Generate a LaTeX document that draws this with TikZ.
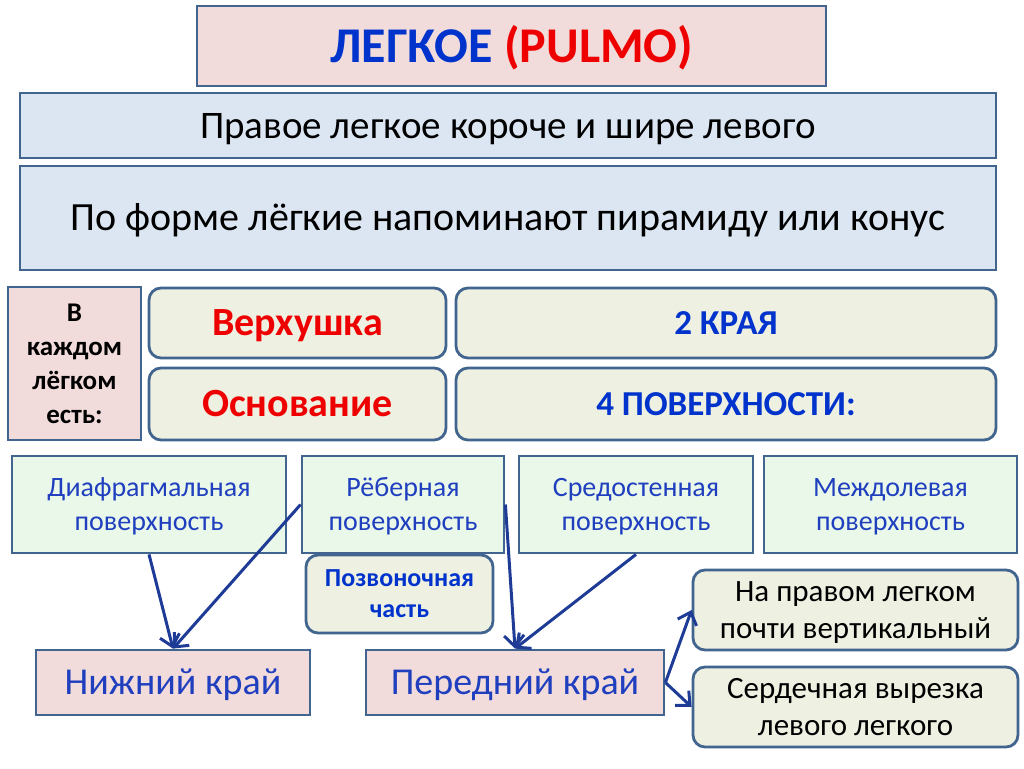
\documentclass[tikz,border=0pt]{standalone}
\usepackage{fontspec}
\setmainfont{Carlito}
\usepackage{xcolor}
\usetikzlibrary{arrows.meta, positioning}

\definecolor{frame}{HTML}{41658F}
\definecolor{pinkfill}{HTML}{F2DCDB}
\definecolor{bluefill}{HTML}{DCE6F2}
\definecolor{greenfill}{HTML}{EAF8EA}
\definecolor{olivefill}{HTML}{EEF0E2}
\definecolor{darkblue}{HTML}{1E3C96}
\definecolor{textblue}{HTML}{1F3FBF}
\definecolor{titleblue}{HTML}{0033CC}
\definecolor{textred}{HTML}{EE0000}

% struts so that the capitals sit in the middle of a box
\newcommand{\topfix}{\rule{0pt}{1em}}
\newcommand{\botfix}{\rule[-0.356em]{0pt}{0.356em}}

\begin{document}
\begin{tikzpicture}[x=1pt, y=-1pt,
    plain/.style={rectangle, draw=frame, line width=2.8pt, inner sep=0pt, align=center},
    capmid/.style={execute at begin node=\topfix, execute at end node=\botfix},
    pinkbox/.style={plain, fill=pinkfill},
    infobox/.style={plain, capmid, fill=bluefill, minimum width=976pt},
    surfbox/.style={plain, fill=greenfill, minimum height=97pt, text=textblue, font=\fontsize{28}{34}\selectfont},
    roundbox/.style={plain, fill=olivefill, rounded corners=12pt},
    edgebox/.style={pinkbox, capmid, minimum height=65pt, text=textblue, font=\fontsize{38}{42}\selectfont},
    arr/.style={-{Straight Barb[length=11pt, width=20pt]}, line width=3pt, draw=darkblue}
]
\useasboundingbox (0,0) rectangle (1024,768);

% top
\node[pinkbox, capmid, minimum width=629pt, minimum height=80pt, font=\bfseries\fontsize{50}{54}\selectfont] (title) at (511.5,46)
  {\textcolor{titleblue}{ЛЕГКОЕ} \textcolor{textred}{(PULMO)}};
\node[infobox, minimum height=65pt, font=\fontsize{39}{44}\selectfont] (shorter) at (508,125.5) {Правое легкое короче и шире левого};
\node[infobox, minimum height=104pt, font=\fontsize{40}{44}\selectfont] (shape) at (508,218) {По форме лёгкие напоминают пирамиду или конус};

% what each lung has
\node[pinkbox, minimum width=133pt, minimum height=153pt, font=\bfseries\fontsize{27}{34}\selectfont] (each) at (74.5,363.5)
  {\topfix В\\каждом\\лёгком\\есть:\botfix};
\node[roundbox, capmid, minimum width=297pt, minimum height=70pt, text=textred, font=\bfseries\fontsize{40}{44}\selectfont] (apex) at (297.5,323) {Верхушка};
\node[roundbox, capmid, minimum width=297pt, minimum height=72pt, text=textred, font=\bfseries\fontsize{40}{44}\selectfont] (base) at (297.5,404) {Основание};
\node[roundbox, capmid, minimum width=540pt, minimum height=70pt, text=titleblue, font=\bfseries\fontsize{35}{40}\selectfont] (edges) at (726,323) {2 КРАЯ};
\node[roundbox, capmid, minimum width=540pt, minimum height=72pt, text=titleblue, font=\bfseries\fontsize{35}{40}\selectfont] (surfaces) at (726,404) {4 ПОВЕРХНОСТИ:};

% surfaces
\node[surfbox, minimum width=274pt] (diaph) at (149,504.5) {\topfix Диафрагмальная\\поверхность\botfix};
\node[surfbox, minimum width=202pt] (costal) at (403,504.5) {\topfix Рёберная\\поверхность\botfix};
\node[surfbox, minimum width=234pt] (medias) at (636,504.5) {\topfix Средостенная\\поверхность\botfix};
\node[surfbox, minimum width=253pt] (interlob) at (890.5,504.5) {\topfix Междолевая\\поверхность\botfix};
\node[roundbox, minimum width=187pt, minimum height=78pt, text=titleblue, font=\bfseries\fontsize{26}{31}\selectfont] (vert) at (399.5,594) {\topfix Позвоночная\\часть\botfix};

% edges
\node[edgebox, minimum width=274pt] (lower) at (173,682.5) {Нижний край};
\node[edgebox, minimum width=298pt] (front) at (515,682.5) {Передний край};
\node[roundbox, minimum width=325pt, minimum height=80pt, font=\fontsize{31}{37}\selectfont] (right) at (855.5,610) {\topfix На правом легком\\почти вертикальный\botfix};
\node[roundbox, minimum width=325pt, minimum height=80pt, font=\fontsize{31}{37}\selectfont] (notch) at (855.5,707) {\topfix Сердечная вырезка\\левого легкого\botfix};

\draw[arr] (diaph.south) -- (lower.north);
\draw[arr] (costal.west) -- (lower.north);
\draw[arr] (costal.east) -- (front.north);
\draw[arr] (medias.south) -- (front.north);
\draw[arr] (front.east) -- (right.west);
\draw[arr] (front.east) -- (notch.west);
\end{tikzpicture}
\end{document}
